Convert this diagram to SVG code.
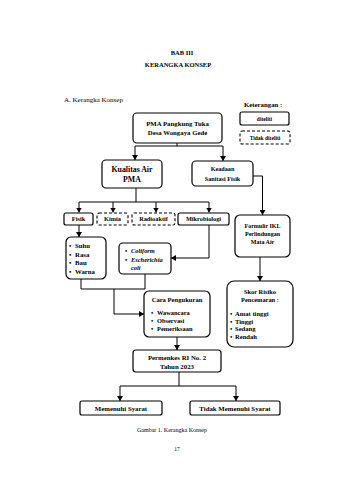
<svg xmlns="http://www.w3.org/2000/svg" width="339" height="480" viewBox="0 0 339 480">
<defs>
<marker id="ah" markerUnits="userSpaceOnUse" markerWidth="6" markerHeight="6" refX="5" refY="3" orient="auto">
<path d="M0,0 L5,3 L0,6 Z" fill="#000"/>
</marker>
<style>
.b{fill:#fff;stroke:#000;stroke-width:1.2}
.d{fill:#fff;stroke:#000;stroke-width:1.1;stroke-dasharray:3,2}
.c{fill:none;stroke:#000;stroke-width:1}
.a{marker-end:url(#ah)}
text{font-family:"Liberation Serif","Times New Roman",serif;font-weight:bold;fill:#000}
.t{font-size:6.5px}
.m{text-anchor:middle}
.n{font-weight:normal}
.i{font-style:italic}
</style>
</defs>
<rect width="339" height="480" fill="#fff"/>
<text x="182" y="55" class="t m">BAB III</text>
<text x="178" y="67" class="t m">KERANGKA KONSEP</text>
<text x="64" y="102" class="t n" style="font-size:7px">A.  Kerangka Konsep</text>
<text x="244" y="107" class="t" style="font-size:6.8px">Keterangan :</text>

<g id="legend-diteliti"><rect x="240" y="112" width="49" height="13" rx="2" class="b"/><text x="264.5" y="120.5" class="t m" style="font-size:5.5px">diteliti</text></g>
<g id="legend-tidak"><rect x="240" y="131" width="50" height="13" rx="2" class="d"/><text x="265" y="139.5" class="t m" style="font-size:5.5px">Tidak diteliti</text></g>

<g id="connectors">
<path d="M177,143 V146 M135,146 H223" class="c"/>
<path d="M135,146 V160" class="c a"/>
<path d="M223,146 V161" class="c a"/>
<path d="M136,188 V202 M79,202 H209" class="c"/>
<path d="M79,202 V212.5" class="c a"/>
<path d="M113,202 V212.5" class="c a"/>
<path d="M156,202 V212.5" class="c a"/>
<path d="M209,202 V212.5" class="c a"/>
<path d="M79,225 V237" class="c a"/>
<path d="M209,225 V258 H171" class="c a"/>
<path d="M253,176 H262.5 V215" class="c a"/>
<path d="M260,257 V281" class="c a"/>
<path d="M81,279 V289 H145 V274 M114,289 V314" class="c"/>
<path d="M114,314 H144" class="c a"/>
<path d="M177,337 V350" class="c a"/>
<path d="M179,372 V386 M120,386 H236" class="c"/>
<path d="M120,386 V401" class="c a"/>
<path d="M236,386 V401" class="c a"/>
</g>

<g id="pma"><rect x="133" y="113" width="89" height="30" rx="4" class="b"/>
<text x="177.5" y="126" class="m" style="font-size:6.8px">PMA Pangkung Tuka</text>
<text x="177.5" y="135" class="m" style="font-size:6.8px">Desa Wongaya Gede</text></g>

<g id="kualitas"><rect x="102" y="160" width="60" height="28" rx="4" class="b"/>
<text x="132" y="172" class="m" style="font-size:7.8px">Kualitas Air</text>
<text x="132" y="182" class="m" style="font-size:7.8px">PMA</text></g>

<g id="keadaan"><rect x="192" y="161" width="61" height="25" rx="4" class="b"/>
<text x="222.5" y="171" class="m" style="font-size:6.2px">Keadaan</text>
<text x="222.5" y="180.5" class="m" style="font-size:6.2px">Sanitasi Fisik</text></g>

<g id="fisik"><rect x="64" y="213" width="29" height="12" rx="2" class="b"/><text x="78.5" y="221.3" class="m" style="font-size:6.3px">Fisik</text></g>
<g id="kimia"><rect x="97" y="213" width="31" height="12" rx="2" class="d"/><text x="112.5" y="221.3" class="m" style="font-size:6.3px">Kimia</text></g>
<g id="radioaktif"><rect x="132" y="213" width="43" height="12" rx="2" class="d"/><text x="153.5" y="221.3" class="m" style="font-size:6.3px">Radioaktif</text></g>
<g id="mikrobiologi"><rect x="178" y="213" width="51" height="12" rx="2" class="b"/><text x="203.5" y="221.3" class="m" style="font-size:6.3px">Mikrobiologi</text></g>

<g id="formulir"><rect x="235" y="215" width="55" height="42" rx="5" class="b"/>
<text x="262.5" y="228" class="m" style="font-size:6px">Formulir IKL</text>
<text x="262.5" y="236" class="m" style="font-size:6px">Perlindungan</text>
<text x="262.5" y="244" class="m" style="font-size:6px">Mata Air</text></g>

<g id="fisik-params"><rect x="66" y="237" width="40" height="42" rx="5" class="b"/>
<g style="font-size:6.8px">
<text x="69" y="248">•</text><text x="75" y="248">Suhu</text>
<text x="69" y="256.5">•</text><text x="75" y="256.5">Rasa</text>
<text x="69" y="265">•</text><text x="75" y="265">Bau</text>
<text x="69" y="273.5">•</text><text x="75" y="273.5">Warna</text></g></g>

<g id="mikro-params"><rect x="119" y="243" width="52" height="31" rx="4" class="b"/>
<g style="font-size:6.4px">
<text x="125" y="253">•</text><text x="131" y="253" class="i">Coliform</text>
<text x="125" y="261.5">•</text><text x="131" y="261.5" class="i">Escherichia</text>
<text x="131" y="270" class="i">coli</text></g></g>

<g id="cara"><rect x="144" y="291" width="66" height="46" rx="5" class="b"/>
<text x="177" y="302" class="m" style="font-size:6.6px">Cara Pengukuran</text>
<g style="font-size:6.4px">
<text x="151" y="315">•</text><text x="157" y="315">Wawancara</text>
<text x="151" y="323">•</text><text x="157" y="323">Observasi</text>
<text x="151" y="331">•</text><text x="157" y="331">Pemeriksaan</text></g></g>

<g id="skor"><rect x="227" y="281" width="66" height="66" rx="7" class="b"/>
<text x="260" y="294" class="m" style="font-size:6.4px">Skor Risiko</text>
<text x="260" y="302" class="m" style="font-size:6.4px">Pencemaran :</text>
<g style="font-size:6.6px">
<text x="230" y="316">•</text><text x="235" y="316">Amat tinggi</text>
<text x="230" y="323.5">•</text><text x="235" y="323.5">Tinggi</text>
<text x="230" y="331">•</text><text x="235" y="331">Sedang</text>
<text x="230" y="339">•</text><text x="235" y="339">Rendah</text></g></g>

<g id="permenkes"><rect x="133" y="350" width="88" height="22" rx="3" class="b"/>
<text x="177" y="360" class="m" style="font-size:6.8px">Permenkes RI No. 2</text>
<text x="177" y="368.8" class="m" style="font-size:6.8px">Tahun 2023</text></g>

<g id="memenuhi"><rect x="80" y="401" width="82" height="14" rx="2" class="b"/><text x="121" y="410.5" class="m" style="font-size:6.8px">Memenuhi Syarat</text></g>
<g id="tidak-memenuhi"><rect x="190" y="401" width="90" height="14" rx="2" class="b"/><text x="235" y="410.5" class="m" style="font-size:6.8px">Tidak Memenuhi Syarat</text></g>

<text x="172" y="432" class="m n" style="font-size:6px">Gambar 1.  Kerangka Konsep</text>
<text x="177" y="451" class="m n" style="font-size:5.5px">17</text>
</svg>
